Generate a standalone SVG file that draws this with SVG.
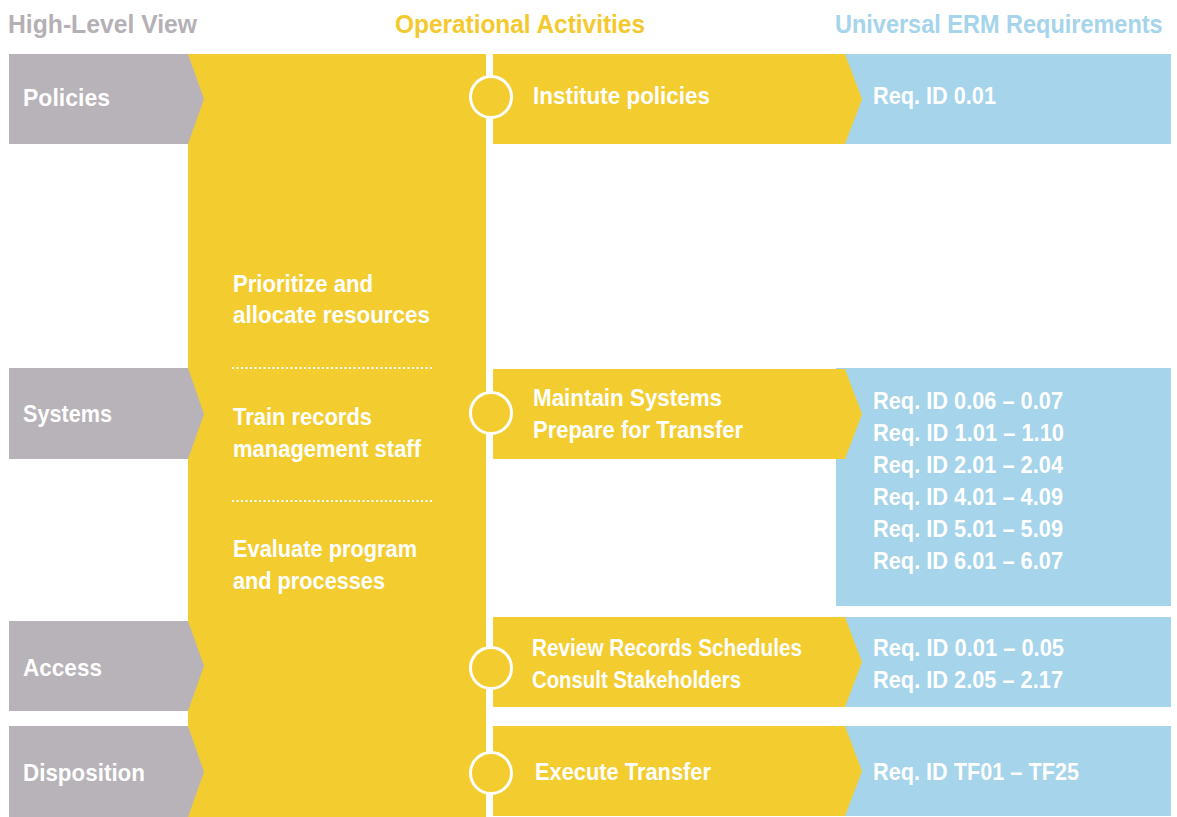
<svg xmlns="http://www.w3.org/2000/svg" width="1177" height="817" viewBox="0 0 1177 817">
<style>
text{font-family:"Liberation Sans",Arial,sans-serif;font-weight:bold;}
.h{font-size:25px;}
.t{font-size:24px;fill:#fff;}
.gray{fill:#b8b3b8;}
.yel{fill:#f3cd2f;}
.blue{fill:#a5d4eb;}
.dot{stroke:#fff;stroke-width:2;stroke-dasharray:2 2.5;fill:none;}
.ring{fill:#f3cd2f;stroke:#fff;stroke-width:3;}
</style>
<rect width="1177" height="817" fill="#fff"/>
<g id="headings">
<text class="h" x="8" y="33" fill="#b5b0b5" textLength="189" lengthAdjust="spacingAndGlyphs">High-Level View</text>
<text class="h" x="395" y="33" fill="#f3c92e" textLength="250" lengthAdjust="spacingAndGlyphs">Operational Activities</text>
<text class="h" transform="translate(835,33) scale(0.94,1)" x="0" y="0" fill="#a5d4eb">Universal ERM Requirements</text>
</g>
<g id="activities-column">
<rect class="yel" x="188" y="54" width="298" height="763"/>
<text class="t" x="233" y="292" textLength="140" lengthAdjust="spacingAndGlyphs">Prioritize and</text>
<text class="t" x="233" y="323" textLength="197" lengthAdjust="spacingAndGlyphs">allocate resources</text>
<line class="dot" x1="232" y1="368" x2="432" y2="368"/>
<text class="t" x="233" y="425" textLength="139" lengthAdjust="spacingAndGlyphs">Train records</text>
<text class="t" x="233" y="457" textLength="188" lengthAdjust="spacingAndGlyphs">management staff</text>
<line class="dot" x1="232" y1="501" x2="432" y2="501"/>
<text class="t" x="233" y="557" textLength="184" lengthAdjust="spacingAndGlyphs">Evaluate program</text>
<text class="t" x="233" y="589" textLength="152" lengthAdjust="spacingAndGlyphs">and processes</text>
</g>
<g id="policies">
<polygon class="gray" points="9,54 188,54 204,99 188,144 9,144"/>
<text class="t" x="23" y="106" textLength="87" lengthAdjust="spacingAndGlyphs">Policies</text>
<rect class="blue" x="840" y="54" width="331" height="90"/>
<polygon class="yel" points="493,54 845,54 862,99 845,144 493,144"/>
<text class="t" x="533" y="104" textLength="177" lengthAdjust="spacingAndGlyphs">Institute policies</text>
<text class="t" x="873" y="104" textLength="123" lengthAdjust="spacingAndGlyphs">Req. ID 0.01</text>
<circle class="ring" cx="491" cy="97" r="20.5"/>
</g>
<g id="systems">
<polygon class="gray" points="9,368 188,368 204,414 188,459 9,459"/>
<text class="t" x="23" y="422" textLength="89" lengthAdjust="spacingAndGlyphs">Systems</text>
<rect class="blue" x="836" y="368" width="335" height="238"/>
<polygon class="yel" points="493,369 845,369 862,414 845,459 493,459"/>
<text class="t" x="533" y="406" textLength="189" lengthAdjust="spacingAndGlyphs">Maintain Systems</text>
<text class="t" x="533" y="438" textLength="210" lengthAdjust="spacingAndGlyphs">Prepare for Transfer</text>
<text class="t" x="873" y="409" textLength="190" lengthAdjust="spacingAndGlyphs">Req. ID 0.06 – 0.07</text>
<text class="t" x="873" y="441" textLength="191" lengthAdjust="spacingAndGlyphs">Req. ID 1.01 – 1.10</text>
<text class="t" x="873" y="473" textLength="190" lengthAdjust="spacingAndGlyphs">Req. ID 2.01 – 2.04</text>
<text class="t" x="873" y="505" textLength="190" lengthAdjust="spacingAndGlyphs">Req. ID 4.01 – 4.09</text>
<text class="t" x="873" y="537" textLength="190" lengthAdjust="spacingAndGlyphs">Req. ID 5.01 – 5.09</text>
<text class="t" x="873" y="569" textLength="190" lengthAdjust="spacingAndGlyphs">Req. ID 6.01 – 6.07</text>
<circle class="ring" cx="491" cy="413" r="20.5"/>
</g>
<g id="access">
<polygon class="gray" points="9,621 188,621 204,666 188,711 9,711"/>
<text class="t" x="23" y="676" textLength="79" lengthAdjust="spacingAndGlyphs">Access</text>
<rect class="blue" x="840" y="617" width="331" height="90"/>
<polygon class="yel" points="493,617 845,617 862,662 845,707 493,707"/>
<text class="t" x="532" y="656" textLength="270" lengthAdjust="spacingAndGlyphs">Review Records Schedules</text>
<text class="t" x="532" y="688" textLength="209" lengthAdjust="spacingAndGlyphs">Consult Stakeholders</text>
<text class="t" x="873" y="656" textLength="191" lengthAdjust="spacingAndGlyphs">Req. ID 0.01 – 0.05</text>
<text class="t" x="873" y="688" textLength="190" lengthAdjust="spacingAndGlyphs">Req. ID 2.05 – 2.17</text>
<circle class="ring" cx="491" cy="668" r="20.5"/>
</g>
<g id="disposition">
<polygon class="gray" points="9,726 188,726 204,772 188,817 9,817"/>
<text class="t" x="23" y="781" textLength="122" lengthAdjust="spacingAndGlyphs">Disposition</text>
<rect class="blue" x="840" y="726" width="331" height="90"/>
<polygon class="yel" points="493,726 845,726 862,771 845,816 493,816"/>
<text class="t" x="535" y="780" textLength="176" lengthAdjust="spacingAndGlyphs">Execute Transfer</text>
<text class="t" x="873" y="780" textLength="206" lengthAdjust="spacingAndGlyphs">Req. ID TF01 – TF25</text>
<circle class="ring" cx="491" cy="773" r="20.5"/>
</g>
<g id="connectors"></g>
</svg>
